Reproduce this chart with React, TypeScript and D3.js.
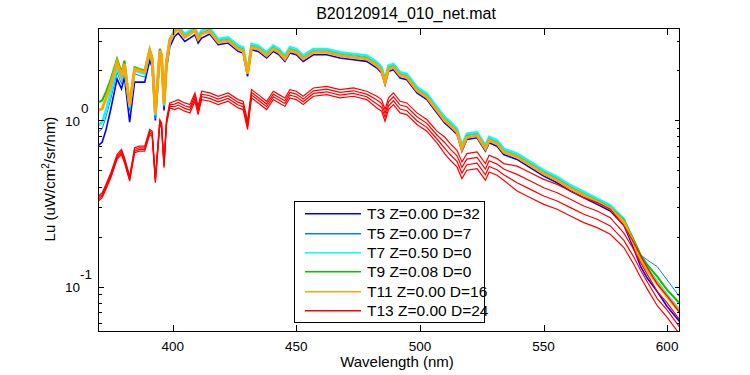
import React from "react";
import * as d3 from "d3";

// Wavelength grid (nm)
const wavelengths = [370,371.5,373,375,377.5,379.3,380.5,382.6,384.6,386.5,388.7,390.7,391.7,393,394.8,395.5,396.5,397.5,398.8,400.8,402.2,404.9,407,409,410.3,411.7,415,418.4,422.4,426.5,428.5,430.3,431.9,434.6,438,440.7,443,445.4,447.4,450,452.8,456.9,462.3,467.7,473.1,478.5,482.6,484.5,485.9,487.3,489.3,492,494.7,498.8,502.8,506.9,510,512.3,515,517,519,523.1,526.5,528,531.2,533.9,539.3,544.7,550.1,555.5,560.9,566.3,571.7,577,582.5,586.5,589.3,592,596,600,605];

// log10(Lu) values
const t3Log = [-0.15,-0.13,-0.06,0.07,0.25,0.19,0.26,-0.01,0.23,0.23,
  0.23,0.36,0.32,0.00,0.38,0.35,0.06,0.31,0.44,0.505,
  0.525,0.475,0.495,0.515,0.465,0.495,0.52,0.455,0.465,0.415,
  0.405,0.265,0.425,0.415,0.375,0.415,0.395,0.355,0.405,0.395,
  0.355,0.395,0.395,0.375,0.365,0.355,0.315,0.285,0.215,0.295,
  0.305,0.255,0.245,0.165,0.125,0.045,-0.015,-0.045,-0.085,-0.185,
  -0.115,-0.105,-0.185,-0.135,-0.155,-0.205,-0.235,-0.285,-0.335,-0.375,
  -0.425,-0.465,-0.505,-0.545,-0.63,-0.77,-0.88,-0.95,-1.03,-1.12,-1.21];
const t5Log = [-0.07,-0.05,0.02,0.13,0.29,0.22,0.29,0.06,0.28,0.27,
  0.26,0.39,0.34,0.01,0.40,0.37,0.08,0.33,0.46,0.53,
  0.55,0.50,0.52,0.54,0.49,0.52,0.55,0.485,0.495,0.445,
  0.435,0.295,0.455,0.445,0.405,0.445,0.425,0.385,0.435,0.425,
  0.385,0.425,0.425,0.405,0.395,0.385,0.345,0.315,0.245,0.325,
  0.335,0.285,0.275,0.195,0.155,0.075,0.015,-0.015,-0.055,-0.155,
  -0.085,-0.075,-0.155,-0.105,-0.125,-0.175,-0.205,-0.255,-0.305,-0.345,
  -0.395,-0.435,-0.475,-0.515,-0.59,-0.72,-0.81,-0.84,-0.88,-0.96,-1.06];
const t7Log = [-0.03,-0.01,0.06,0.17,0.32,0.25,0.32,0.08,0.30,0.29,
  0.28,0.41,0.36,0.03,0.41,0.38,0.09,0.34,0.47,0.55,
  0.57,0.52,0.54,0.56,0.51,0.54,0.555,0.49,0.50,0.45,
  0.44,0.30,0.46,0.45,0.41,0.45,0.43,0.39,0.44,0.43,
  0.39,0.43,0.43,0.41,0.40,0.39,0.35,0.32,0.25,0.33,
  0.34,0.29,0.28,0.20,0.16,0.08,0.02,-0.01,-0.05,-0.15,
  -0.08,-0.07,-0.15,-0.10,-0.12,-0.17,-0.20,-0.25,-0.30,-0.34,
  -0.39,-0.43,-0.47,-0.51,-0.595,-0.725,-0.825,-0.89,-0.97,-1.05,-1.14];
const t9Log = [0.11,0.12,0.17,0.25,0.37,0.29,0.36,0.10,0.32,0.31,
  0.30,0.43,0.38,0.05,0.43,0.40,0.11,0.36,0.49,0.535,
  0.555,0.505,0.525,0.545,0.495,0.525,0.54,0.475,0.485,0.435,
  0.425,0.285,0.445,0.435,0.395,0.435,0.415,0.375,0.425,0.415,
  0.375,0.415,0.415,0.395,0.385,0.375,0.335,0.305,0.235,0.315,
  0.325,0.275,0.265,0.185,0.145,0.065,0.005,-0.025,-0.065,-0.165,
  -0.095,-0.085,-0.165,-0.115,-0.135,-0.185,-0.215,-0.265,-0.315,-0.355,
  -0.405,-0.445,-0.485,-0.525,-0.60,-0.72,-0.81,-0.87,-0.94,-1.02,-1.10];
const t11Log = [0.06,0.07,0.13,0.22,0.35,0.27,0.34,0.09,0.31,0.30,
  0.29,0.42,0.37,0.04,0.42,0.39,0.10,0.35,0.48,0.53,
  0.55,0.50,0.52,0.54,0.49,0.52,0.535,0.47,0.48,0.43,
  0.42,0.28,0.44,0.43,0.39,0.43,0.41,0.37,0.42,0.41,
  0.37,0.41,0.41,0.39,0.38,0.37,0.33,0.30,0.23,0.31,
  0.32,0.27,0.26,0.18,0.14,0.06,0.00,-0.03,-0.07,-0.17,
  -0.10,-0.09,-0.17,-0.12,-0.14,-0.19,-0.22,-0.27,-0.32,-0.36,
  -0.41,-0.45,-0.49,-0.53,-0.61,-0.74,-0.84,-0.90,-0.98,-1.06,-1.15];
const t13aLog = [-0.455,-0.435,-0.385,-0.315,-0.205,-0.175,-0.225,-0.335,-0.165,-0.155,
  -0.155,-0.055,-0.065,-0.345,0.005,-0.015,-0.255,0.005,0.105,0.115,
  0.125,0.105,0.095,0.165,0.085,0.175,0.165,0.145,0.165,0.125,
  0.115,-0.005,0.185,0.155,0.115,0.175,0.155,0.135,0.185,0.175,
  0.145,0.195,0.205,0.185,0.195,0.175,0.145,0.125,0.065,0.135,
  0.165,0.115,0.105,0.045,0.005,-0.065,-0.10,-0.14,-0.18,-0.25,
  -0.20,-0.19,-0.26,-0.21,-0.23,-0.26,-0.275,-0.315,-0.355,-0.385,
  -0.425,-0.465,-0.495,-0.535,-0.635,-0.735,-0.815,-0.885,-0.985,-1.055,-1.155];
const t13bLog = [-0.465,-0.445,-0.395,-0.325,-0.215,-0.185,-0.235,-0.345,-0.175,-0.165,
  -0.165,-0.065,-0.075,-0.355,-0.005,-0.025,-0.265,-0.005,0.095,0.098,
  0.108,0.088,0.078,0.148,0.068,0.158,0.148,0.128,0.148,0.108,
  0.098,-0.022,0.168,0.138,0.098,0.158,0.138,0.118,0.168,0.158,
  0.128,0.178,0.188,0.168,0.178,0.158,0.122,0.102,0.042,0.112,
  0.142,0.092,0.082,0.022,-0.018,-0.088,-0.133,-0.173,-0.213,-0.283,
  -0.233,-0.223,-0.293,-0.243,-0.263,-0.293,-0.325,-0.365,-0.405,-0.435,
  -0.475,-0.515,-0.545,-0.585,-0.678,-0.778,-0.858,-0.928,-1.028,-1.098,-1.198];
const t13cLog = [-0.475,-0.455,-0.405,-0.335,-0.225,-0.195,-0.245,-0.355,-0.185,-0.175,
  -0.175,-0.075,-0.085,-0.365,-0.015,-0.035,-0.275,-0.015,0.085,0.082,
  0.092,0.072,0.062,0.132,0.052,0.142,0.132,0.112,0.132,0.092,
  0.082,-0.038,0.152,0.122,0.082,0.142,0.122,0.102,0.152,0.142,
  0.112,0.162,0.172,0.152,0.162,0.142,0.098,0.078,0.018,0.088,
  0.118,0.068,0.058,-0.002,-0.042,-0.112,-0.167,-0.207,-0.247,-0.317,
  -0.267,-0.257,-0.327,-0.277,-0.297,-0.327,-0.375,-0.415,-0.455,-0.485,
  -0.525,-0.565,-0.595,-0.635,-0.722,-0.822,-0.902,-0.972,-1.072,-1.142,-1.242];
const t13dLog = [-0.485,-0.465,-0.415,-0.345,-0.235,-0.205,-0.255,-0.365,-0.195,-0.185,
  -0.185,-0.085,-0.095,-0.375,-0.025,-0.045,-0.285,-0.025,0.075,0.065,
  0.075,0.055,0.045,0.115,0.035,0.125,0.115,0.095,0.115,0.075,
  0.065,-0.055,0.135,0.105,0.065,0.125,0.105,0.085,0.135,0.125,
  0.095,0.145,0.155,0.135,0.145,0.125,0.075,0.055,-0.005,0.065,
  0.095,0.045,0.035,-0.025,-0.065,-0.135,-0.20,-0.24,-0.28,-0.35,
  -0.30,-0.29,-0.36,-0.31,-0.33,-0.36,-0.425,-0.465,-0.505,-0.535,
  -0.575,-0.615,-0.645,-0.685,-0.765,-0.865,-0.945,-1.015,-1.115,-1.185,-1.285];

const seriesLabels = ["T3 Z=0.00 D=32","T5 Z=0.00 D=7","T7 Z=0.50 D=0","T9 Z=0.08 D=0","T11 Z=0.00 D=16","T13 Z=0.00 D=24"];
const seriesColors = ["#0000ff","#0080ff","#00ffff","#00c800","#ffa500","#ff0000"];
const seriesData = [[t3Log],[t5Log],[t7Log],[t9Log],[t11Log],[t13aLog,t13bLog,t13cLog,t13dLog]];
const seriesWidths = [1.6,1,2.5,2,3,1.2];

const xTicks = [400,450,500,550,600];
const yMajorTicks = [0.1,1];
const yMajorExp = ["-1","0"];
const yMinorTicks = [0.06,0.07,0.08,0.09,0.2,0.3,0.4,0.5,0.6,0.7,0.8,0.9,2,3];

const FONT = "'Liberation Sans', Arial, Helvetica, sans-serif";

export default function App() {
  const W = 750, H = 375;
  const L = 98.5, R = 679.5, T = 28.5, B = 331.5;
  const x = d3.scaleLinear().domain([370, 605]).range([L, R]);
  const y = d3.scaleLog().domain([0.0537, 3.57]).range([B, T]);
  const lineGen = d3.line<number>()
    .x((_, i) => x(wavelengths[i]))
    .y((v) => y(Math.pow(10, v)));

  const legX = 294.5, legY = 201.5, legW = 190, legH = 121;
  const rowH = 19.33;

  return (
    <svg width={W} height={H} style={{ position: "absolute", left: 0, top: 0, background: "#fff" }}>
      <rect x={0} y={0} width={W} height={H} fill="#fff" />
      <defs>
        <clipPath id="plotclip">
          <rect x={L} y={T} width={R - L} height={B - T} />
        </clipPath>
      </defs>
      <g clipPath="url(#plotclip)">
        {seriesData.map((reps, si) =>
          reps.map((vals, ri) => (
            <path key={si + "-" + ri} d={lineGen(vals) || ""} fill="none"
              stroke={seriesColors[si]} strokeWidth={seriesWidths[si]} strokeLinejoin="miter" />
          ))
        )}
      </g>
      {/* axes box */}
      <rect x={L} y={T} width={R - L} height={B - T} fill="none" stroke="#000" strokeWidth={1} shapeRendering="crispEdges" />
      {/* x ticks */}
      {xTicks.map((t) => (
        <g key={"xt" + t}>
          <line x1={Math.round(x(t)) + 0.5} x2={Math.round(x(t)) + 0.5} y1={B} y2={B - 6.5} stroke="#000" shapeRendering="crispEdges" />
          <line x1={Math.round(x(t)) + 0.5} x2={Math.round(x(t)) + 0.5} y1={T} y2={T + 6.5} stroke="#000" shapeRendering="crispEdges" />
          <text x={x(t)} y={351} textAnchor="middle" fontFamily={FONT} fontSize={13.5}>{t}</text>
        </g>
      ))}
      {/* y major ticks */}
      {yMajorTicks.map((t, i) => (
        <g key={"ym" + t}>
          <line x1={L} x2={L + 5} y1={Math.round(y(t)) + 0.5} y2={Math.round(y(t)) + 0.5} stroke="#000" shapeRendering="crispEdges" />
          <line x1={R} x2={R - 5} y1={Math.round(y(t)) + 0.5} y2={Math.round(y(t)) + 0.5} stroke="#000" shapeRendering="crispEdges" />
          <text x={80} y={y(t) + 5.5} textAnchor="end" fontFamily={FONT} fontSize={13.5}>10</text>
          <text x={i === 0 ? 80 : 81} y={y(t) - 7.5} textAnchor="start" fontFamily={FONT} fontSize={13.5}>{yMajorExp[i]}</text>
        </g>
      ))}
      {yMinorTicks.map((t) => (
        <g key={"yn" + t}>
          <line x1={L} x2={L + 3} y1={Math.round(y(t)) + 0.5} y2={Math.round(y(t)) + 0.5} stroke="#000" shapeRendering="crispEdges" />
          <line x1={R} x2={R - 3} y1={Math.round(y(t)) + 0.5} y2={Math.round(y(t)) + 0.5} stroke="#000" shapeRendering="crispEdges" />
        </g>
      ))}
      {/* title & labels */}
      <text x={406} y={18.5} textAnchor="middle" fontFamily={FONT} fontSize={16}>B20120914_010_net.mat</text>
      <text x={397} y={367} textAnchor="middle" fontFamily={FONT} fontSize={15}>Wavelength (nm)</text>
      <text transform="translate(55,179) rotate(-90)" textAnchor="middle" fontFamily={FONT} fontSize={15}>
        Lu (uW/cm<tspan fontSize={10} dy={-6}>2</tspan><tspan dy={6}>/sr/nm)</tspan>
      </text>
      {/* legend */}
      <rect x={legX} y={legY} width={legW} height={legH} fill="#fff" stroke="#000" strokeWidth={1} shapeRendering="crispEdges" />
      {seriesLabels.map((lab, i) => {
        const cy = Math.round(213.3 + i * rowH);
        return (
          <g key={"lg" + i}>
            <rect x={305} y={cy} width={56} height={1.5} fill={seriesColors[i]} />
            <text x={367} y={cy + 5.5} fontFamily={FONT} fontSize={15.5}>{lab}</text>
          </g>
        );
      })}
    </svg>
  );
}
